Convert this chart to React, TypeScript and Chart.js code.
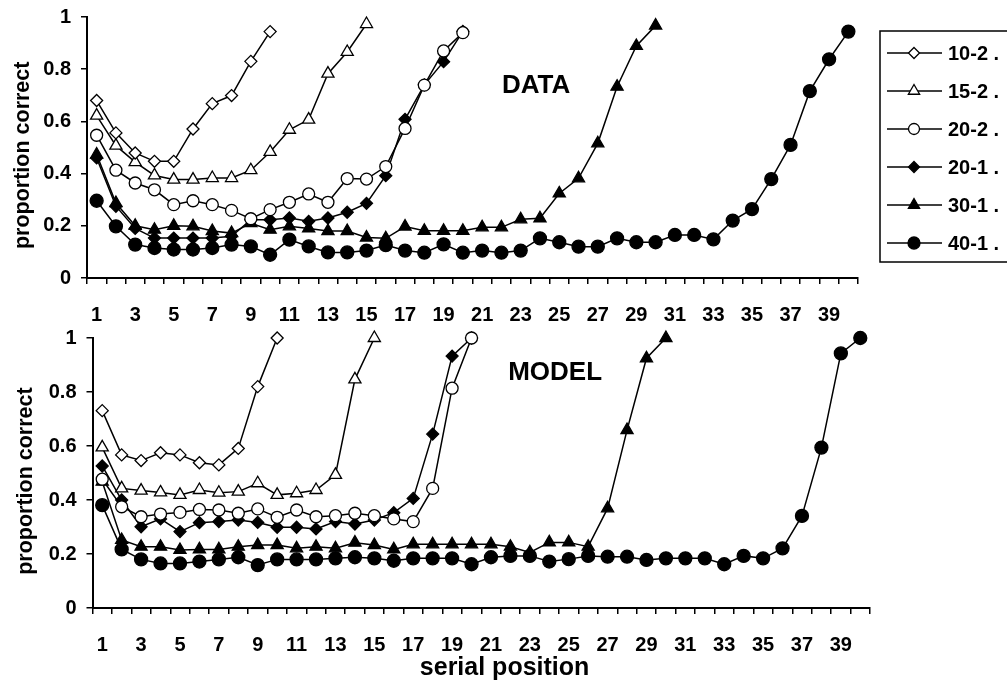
import React, { useEffect, useRef } from 'react';
import { Chart, registerables } from 'chart.js';

Chart.register(...registerables);

const categories = ['1','2','3','4','5','6','7','8','9','10','11','12','13','14','15','16','17','18','19','20',
  '21','22','23','24','25','26','27','28','29','30','31','32','33','34','35','36','37','38','39','40'];
const xTickLabels = ['1','3','5','7','9','11','13','15','17','19','21','23','25','27','29','31','33','35','37','39'];
const yTicks = [0, 0.2, 0.4, 0.6, 0.8, 1];
const yTickLabels = ['0', '0.2', '0.4', '0.6', '0.8', '1'];

const seriesNames = ['10-2 .', '15-2 .', '20-2 .', '20-1 .', '30-1 .', '40-1 .'];

// DATA panel
const data10_2 = [0.68, 0.556, 0.479, 0.447, 0.447, 0.571, 0.668, 0.699, 0.83, 0.944];
const data15_2 = [0.622, 0.507, 0.444, 0.393, 0.377, 0.377, 0.383, 0.383, 0.413, 0.483, 0.568, 0.607, 0.783, 0.866, 0.973];
const data20_2 = [0.547, 0.413, 0.364, 0.338, 0.281, 0.296, 0.281, 0.259, 0.227, 0.262, 0.29, 0.322, 0.29, 0.381, 0.379, 0.427, 0.573, 0.739, 0.87, 0.94];
const data20_1 = [0.46, 0.275, 0.19, 0.153, 0.153, 0.153, 0.153, 0.16, 0.223, 0.223, 0.23, 0.217, 0.23, 0.252, 0.286, 0.392, 0.608, 0.74, 0.829, 0.945];
const data30_1 = [0.473, 0.287, 0.2, 0.185, 0.2, 0.198, 0.18, 0.172, 0.21, 0.185, 0.198, 0.19, 0.18, 0.18, 0.155, 0.152, 0.197, 0.181, 0.181, 0.181,
  0.194, 0.194, 0.225, 0.229, 0.324, 0.382, 0.516, 0.733, 0.889, 0.967];
const data40_1 = [0.296, 0.198, 0.128, 0.115, 0.109, 0.109, 0.115, 0.128, 0.121, 0.089, 0.147, 0.121, 0.098, 0.098, 0.105, 0.126, 0.105, 0.097, 0.129, 0.097,
  0.105, 0.097, 0.105, 0.152, 0.137, 0.12, 0.12, 0.152, 0.137, 0.137, 0.165, 0.165, 0.148, 0.22, 0.264, 0.379, 0.51, 0.716, 0.838, 0.944];

// MODEL panel
const model10_2 = [0.731, 0.567, 0.546, 0.575, 0.567, 0.538, 0.53, 0.591, 0.82, 1.0];
const model15_2 = [0.595, 0.443, 0.435, 0.428, 0.419, 0.437, 0.427, 0.431, 0.462, 0.419, 0.425, 0.437, 0.493, 0.847, 1.0];
const model20_2 = [0.477, 0.375, 0.338, 0.348, 0.354, 0.365, 0.363, 0.351, 0.367, 0.336, 0.363, 0.338, 0.342, 0.351, 0.342, 0.33, 0.32, 0.443, 0.814, 1.0];
const model20_1 = [0.526, 0.4, 0.301, 0.33, 0.283, 0.316, 0.32, 0.326, 0.317, 0.299, 0.299, 0.293, 0.32, 0.311, 0.326, 0.353, 0.406, 0.644, 0.933, 1.0];
const model30_1 = [0.468, 0.252, 0.227, 0.227, 0.215, 0.217, 0.217, 0.227, 0.233, 0.233, 0.221, 0.227, 0.221, 0.242, 0.233, 0.217, 0.236, 0.236, 0.236, 0.236,
  0.236, 0.227, 0.206, 0.243, 0.243, 0.227, 0.369, 0.659, 0.925, 1.0];
const model40_1 = [0.381, 0.217, 0.18, 0.165, 0.165, 0.172, 0.18, 0.188, 0.159, 0.18, 0.18, 0.18, 0.184, 0.188, 0.184, 0.175, 0.184, 0.184, 0.184, 0.162,
  0.188, 0.193, 0.193, 0.172, 0.181, 0.193, 0.19, 0.19, 0.178, 0.184, 0.184, 0.184, 0.162, 0.193, 0.184, 0.221, 0.341, 0.594, 0.943, 1.0];

const FONT = "'Liberation Sans', Arial, Helvetica, sans-serif";

const markerStyles = ['rectRot', 'triangle', 'circle', 'rectRot', 'triangle', 'circle'];
const markerFills = ['#ffffff', '#ffffff', '#ffffff', '#000000', '#000000', '#000000'];
const markerRadii = [6, 7, 6, 6, 7, 6.5];

function drawMarker(ctx: CanvasRenderingContext2D, style: string, x: number, y: number, r: number, fill: string) {
  ctx.save();
  ctx.beginPath();
  if (style === 'circle') {
    ctx.arc(x, y, r, 0, Math.PI * 2);
  } else if (style === 'triangle') {
    for (let k = 0; k < 3; k++) {
      const a = -Math.PI / 2 + k * (2 * Math.PI / 3);
      const px = x + Math.cos(a) * r;
      const py = y + Math.sin(a) * r;
      if (k === 0) ctx.moveTo(px, py); else ctx.lineTo(px, py);
    }
  } else {
    ctx.moveTo(x, y - r);
    ctx.lineTo(x + r, y);
    ctx.lineTo(x, y + r);
    ctx.lineTo(x - r, y);
  }
  ctx.closePath();
  ctx.fillStyle = fill;
  ctx.fill();
  ctx.lineWidth = 1.3;
  ctx.strokeStyle = '#000';
  ctx.stroke();
  ctx.restore();
}

const legendPlugin = {
  id: 'boxLegend',
  afterDraw(chart: any) {
    const ctx: CanvasRenderingContext2D = chart.ctx;
    ctx.save();
    ctx.strokeStyle = '#000';
    ctx.lineWidth = 1.5;
    ctx.strokeRect(880, 31, 200, 231);
    chart.data.datasets.forEach((ds: any, i: number) => {
      const y = 53 + i * 38;
      ctx.beginPath();
      ctx.moveTo(887, y);
      ctx.lineTo(942, y);
      ctx.lineWidth = 1.5;
      ctx.strokeStyle = '#000';
      ctx.stroke();
      drawMarker(ctx, markerStyles[i], 914, y, markerRadii[i] - 0.5, markerFills[i]);
      ctx.fillStyle = '#000';
      ctx.font = `bold 20px ${FONT}`;
      ctx.textAlign = 'left';
      ctx.textBaseline = 'middle';
      ctx.fillText(ds.label, 948, y + 1);
    });
    ctx.restore();
  },
};

const textPlugin = {
  id: 'panelText',
  afterDraw(chart: any, _args: any, opts: any) {
    const ctx: CanvasRenderingContext2D = chart.ctx;
    const xs = chart.scales.x;
    const ys = chart.scales.y;
    (opts.items || []).forEach((t: any) => {
      ctx.save();
      ctx.fillStyle = '#000';
      ctx.font = `bold ${t.size}px ${FONT}`;
      ctx.textAlign = 'center';
      ctx.textBaseline = 'middle';
      const px = t.xv !== undefined ? xs.getPixelForValue(t.xv) : t.fromLeft;
      const py = t.yv !== undefined ? ys.getPixelForValue(t.yv) : chart.height - t.fromBottom;
      ctx.translate(px, py);
      if (t.rotate) ctx.rotate(-Math.PI / 2);
      ctx.fillText(t.text, 0, 0);
      ctx.restore();
    });
  },
};

function makeDatasets(series: number[][]) {
  return series.map((vals, i) => ({
    label: seriesNames[i],
    data: vals,
    borderColor: '#000',
    borderWidth: 1.5,
    pointStyle: markerStyles[i],
    pointRadius: markerRadii[i],
    pointBackgroundColor: markerFills[i],
    pointBorderColor: '#000',
    pointBorderWidth: 1.3,
    pointHoverRadius: markerRadii[i],
    tension: 0,
    fill: false,
    clip: false as const,
  }));
}

function makeOptions(cfg: { yWidth: number; xHeight: number; padTop: number; padRight: number; items: any[] }) {
  const tickFont = { family: FONT, size: 20, weight: 'bold' as const };
  return {
    responsive: false,
    animation: false as const,
    devicePixelRatio: 1,
    layout: { padding: { top: cfg.padTop, right: cfg.padRight, left: 0, bottom: 0 } },
    plugins: {
      legend: { display: false },
      tooltip: { enabled: false },
      panelText: { items: cfg.items },
    },
    scales: {
      x: {
        type: 'category' as const,
        offset: true,
        grid: { offset: true, drawOnChartArea: false, drawTicks: true, tickLength: 6, color: '#000', lineWidth: 1.5 },
        border: { display: true, color: '#000', width: 2 },
        ticks: {
          autoSkip: false,
          maxRotation: 0,
          minRotation: 0,
          color: '#000',
          font: tickFont,
          padding: 19,
          callback: (_v: any, idx: number) => (xTickLabels.includes(categories[idx]) ? categories[idx] : ''),
        },
        afterFit: (s: any) => { s.height = cfg.xHeight; s.paddingLeft = 0; s.paddingRight = 0; },
      },
      y: {
        min: 0,
        max: 1,
        afterBuildTicks: (s: any) => { s.ticks = yTicks.map((v) => ({ value: v })); },
        grid: { drawOnChartArea: false, drawTicks: true, tickLength: 6, color: '#000', lineWidth: 1.5 },
        border: { display: true, color: '#000', width: 2 },
        ticks: {
          color: '#000',
          font: tickFont,
          padding: 10,
          callback: (_v: any, idx: number) => yTickLabels[idx],
        },
        title: { display: false },
        afterFit: (s: any) => { s.width = cfg.yWidth; s.paddingTop = 0; s.paddingBottom = 0; },
      },
    },
  };
}

export default function App() {
  const topRef = useRef<HTMLCanvasElement | null>(null);
  const botRef = useRef<HTMLCanvasElement | null>(null);

  useEffect(() => {
    const top = new Chart(topRef.current as HTMLCanvasElement, {
      type: 'line',
      data: {
        labels: categories,
        datasets: makeDatasets([data10_2, data15_2, data20_2, data20_1, data30_1, data40_1]) as any,
      },
      options: makeOptions({
        yWidth: 87, xHeight: 52, padTop: 17, padRight: 149,
        items: [
          { text: 'DATA', size: 26, xv: 22.8, yv: 0.735 },
          { text: 'proportion correct', size: 21.5, fromLeft: 23, yv: 0.47, rotate: true },
        ],
      }) as any,
      plugins: [textPlugin, legendPlugin],
    });
    const bot = new Chart(botRef.current as HTMLCanvasElement, {
      type: 'line',
      data: {
        labels: categories,
        datasets: makeDatasets([model10_2, model15_2, model20_2, model20_1, model30_1, model40_1]) as any,
      },
      options: makeOptions({
        yWidth: 92.5, xHeight: 83, padTop: 18, padRight: 137,
        items: [
          { text: 'MODEL', size: 26, xv: 23.3, yv: 0.87 },
          { text: 'proportion correct', size: 21.5, fromLeft: 26, yv: 0.47, rotate: true },
          { text: 'serial position', size: 25, xv: 20.7, fromBottom: 23 },
        ],
      }) as any,
      plugins: [textPlugin],
    });
    return () => {
      top.destroy();
      bot.destroy();
    };
  }, []);

  return (
    <div style={{ position: 'absolute', left: 0, top: 0, width: 1007, height: 691, background: '#fff' }}>
      <canvas ref={topRef} width={1007} height={330} style={{ position: 'absolute', left: 0, top: 0 }} />
      <canvas ref={botRef} width={1007} height={371} style={{ position: 'absolute', left: 0, top: 320 }} />
    </div>
  );
}
